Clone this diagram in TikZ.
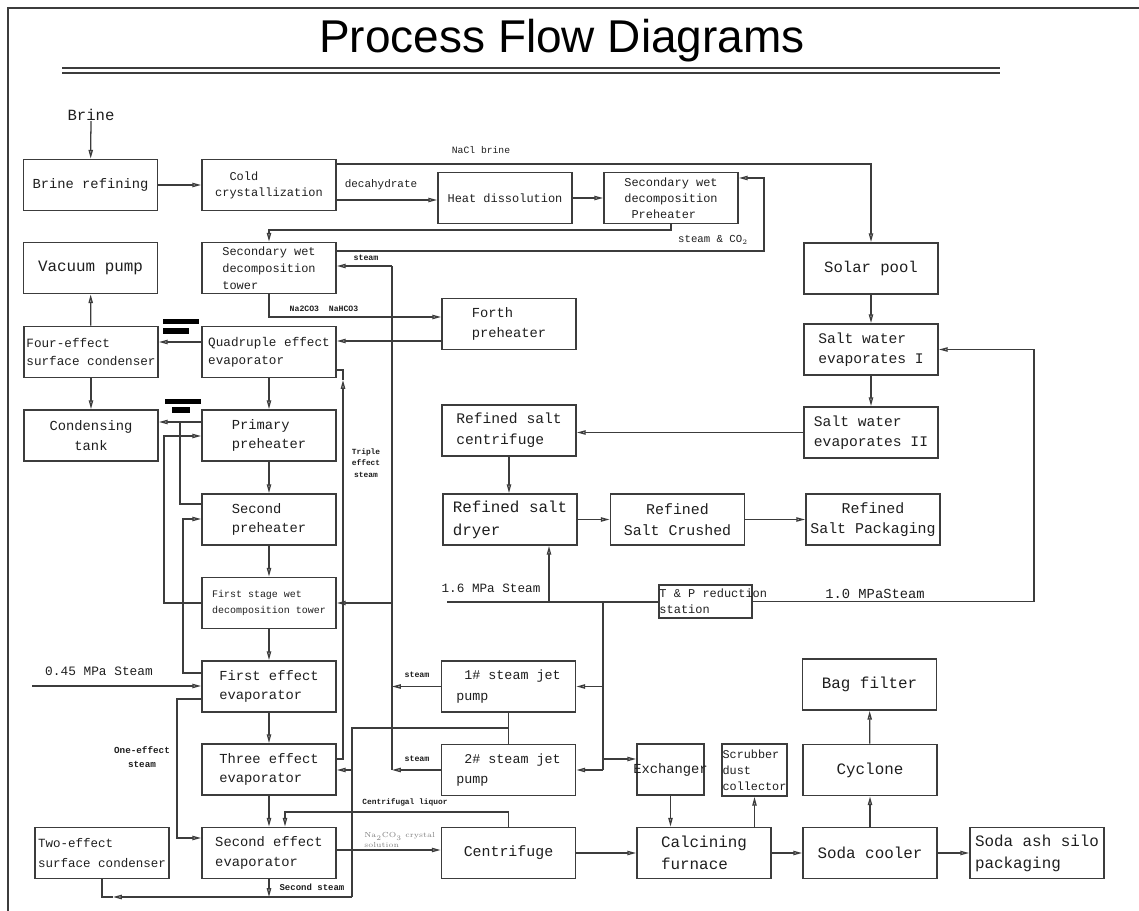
\documentclass[tikz,border=0pt]{standalone}
\usepackage{fontspec}
\usepackage{tikz}
\usetikzlibrary{arrows.meta, calc}
\newfontfamily\boxfont{Liberation Mono}
\newfontfamily\titlefont{Liberation Sans}
\definecolor{lineGray}{RGB}{60,60,60}
\definecolor{textGray}{RGB}{30,30,30}

\begin{document}
\begin{tikzpicture}[x=0.025cm, y=-0.025cm,
  >={Triangle[length=2.2mm, width=1.1mm, fill=gray!45]},
  box/.style={draw=lineGray, line width=1.3pt, minimum width=3.35cm, minimum height=1.275cm, inner sep=1pt, text=textGray},
  flow/.style={->, line width=0.9pt, lineGray},
  pipe/.style={line width=0.9pt, lineGray},
  fs/.style 2 args={font=\boxfont\fontsize{#1}{#2}\selectfont},
  bs/.style 2 args={font=\boxfont\bfseries\fontsize{#1}{#2}\selectfont},
  tag/.style={inner sep=0pt, text=textGray}]
  \useasboundingbox (0,0) rectangle (1139,911);

  % frame and title
  \draw[lineGray, line width=1.2pt] (8,911) -- (8,8) -- (1139,8);
  \node[font=\titlefont\fontsize{32.7}{36}\selectfont] (title) at (562,41) {Process Flow Diagrams};
  \draw[lineGray, line width=1.2pt] (62,68) -- (1000,68);
  \draw[lineGray, line width=1.2pt] (62,73) -- (1000,73);

  % column 1
  \node[tag, fs={11.1}{13}] (lbrine) at (91,115) {Brine};
  \node[box, fs={9.8}{14}] (brref) at (90.5,185) {Brine refining};
  \node[box, fs={11.3}{16}] (vac) at (90.5,268) {Vacuum pump};
  \node[box, fs={9}{13}, align=left] (fourcond) at (91,352) {Four-effect\\surface condenser};
  \node[box, fs={9.8}{14}, align=center] (tank) at (91,435.5) {Condensing\\tank};
  \node[box, fs={8.9}{14}, align=left] (twocond) at (102,853) {Two-effect\\surface condenser};

  % column 2
  \node[box, fs={8.5}{11.4}, align=left] (cold) at (269,185) {\ \ Cold\\crystallization};
  \node[box, fs={8.5}{12}, align=left] (swdtower) at (269,268) {Secondary wet\\decomposition\\tower};
  \node[box, fs={9}{12.5}, align=left] (quad) at (269,352) {Quadruple effect\\evaporator};
  \node[box, fs={9.8}{14}, align=left] (primary) at (269,435.5) {Primary\\preheater};
  \node[box, fs={9.8}{14}, align=left] (second) at (269,519.5) {Second\\preheater};
  \node[box, fs={7.1}{11.5}, align=left] (firststage) at (269,603) {First stage wet\\decomposition tower};
  \node[box, fs={9.8}{14}, align=left] (firsteff) at (269,686.5) {First effect\\evaporator};
  \node[box, fs={9.8}{14}, align=left] (three) at (269,769.5) {Three effect\\evaporator};
  \node[box, fs={9.8}{14}, align=left] (secondeff) at (269,853) {Second effect\\evaporator};

  % column 3
  \node[box, fs={8.5}{12}] (heat) at (505,198) {Heat dissolution};
  \node[box, fs={9.8}{14}, align=left] (forth) at (509,324) {Forth\\preheater};
  \node[box, fs={10.4}{15}, align=left] (rscent) at (509,430.5) {Refined salt\\centrifuge};
  \node[box, fs={11.3}{16.4}, align=left] (dryer) at (510,519.5) {Refined salt\\dryer};
  \node[box, fs={9.5}{14.5}, align=left] (jet1) at (508.5,686.5) {\ 1\# steam jet\\pump};
  \node[box, fs={9.5}{14.5}, align=left] (jet2) at (508.5,770) {\ 2\# steam jet\\pump};
  \node[box, fs={10.6}{15}] (centrif) at (508.5,853) {Centrifuge};

  % column 4
  \node[box, fs={8.5}{11.4}, align=left] (swdpre) at (671,198) {Secondary wet\\decomposition\\\ Preheater};
  \node[box, fs={10.6}{14.5}, align=center] (crushed) at (677.5,519.5) {Refined\\Salt Crushed};
  \node[box, fs={8.5}{11.4}, align=left, minimum width=2.325cm, minimum height=0.825cm, inner sep=0pt] (tp) at (705.5,601.5)
    {\makebox[2.3cm][l]{T \& P reduction}\\\makebox[2.3cm][l]{station}};
  \node[box, fs={9.8}{14}, minimum width=1.675cm] (exch) at (670.5,769.5) {\makebox[0pt]{Exchanger}};
  \node[box, fs={8.4}{11.5}, align=left, minimum width=1.625cm, minimum height=1.3cm, inner sep=0.5pt] (scrub) at (754.5,770) {Scrubber\\dust\\collector};
  \node[box, fs={11.3}{16}, align=left] (calc) at (704,853) {Calcining\\furnace};

  % column 5
  \node[box, fs={11.1}{16}] (solar) at (871,268.5) {Solar pool};
  \node[box, fs={10.4}{14.5}, align=left] (swI) at (871,349.5) {Salt water\\evaporates I};
  \node[box, fs={10.4}{14.5}, align=left] (swII) at (871,432.5) {Salt water\\evaporates II};
  \node[box, fs={10.6}{14.5}, align=center] (packaging) at (873,519.5) {Refined\\Salt Packaging};
  \node[box, fs={11.3}{16}] (bag) at (869.5,684.5) {Bag filter};
  \node[box, fs={11.3}{16}] (cyclone) at (870,770) {Cyclone};
  \node[box, fs={11.3}{16}] (soda) at (870,853) {Soda cooler};
  \node[box, fs={11.3}{15.5}, align=left] (silo) at (1037,853) {Soda ash silo\\packaging};

  % black marks
  \fill[black] (163,319) rectangle (199,324);
  \fill[black] (163,328) rectangle (189,334);
  \fill[black] (165,399) rectangle (201,404);
  \fill[black] (172,407) rectangle (190,413);

  % labels
  \node[tag, fs={6.9}{8}] (lnacl) at (481,150) {NaCl brine};
  \node[tag, fs={7.8}{9}] (ldeca) at (381,185) {decahydrate};
  \node[tag, fs={7.6}{9}] (lco2) at (713,240) {steam \& CO$_2$};
  \node[tag, bs={5.9}{7}] (lsteamA) at (366,258) {steam};
  \node[tag, bs={5.8}{7}] (lnahco) at (324,309) {Na2CO3\ \ NaHCO3};
  \node[tag, bs={5.6}{8.2}, align=center] (ltriple) at (366,463) {Triple\\effect\\steam};
  \node[tag, fs={9}{10}] (l16) at (491,588) {1.6 MPa Steam};
  \node[tag, fs={9.8}{11}] (l10) at (875,594) {1.0 MPaSteam};
  \node[tag, bs={5.9}{7}] (lsteamB) at (417,675) {steam};
  \node[tag, bs={5.9}{7}] (lsteamC) at (417,759) {steam};
  \node[tag, fs={9.1}{10}] (l045) at (99,671) {0.45 MPa Steam};
  \node[tag, bs={6.6}{10}, align=center] (lone) at (142,757) {One-effect\\steam};
  \node[tag, bs={5.6}{7}] (lliquor) at (405,802) {Centrifugal liquor};
  \node[tag, font=\fontsize{5.2}{6.5}\selectfont, text=gray, align=left, anchor=west] (lcrystal) at (364,840) {Na$_2$CO$_3$ crystal\\solution};
  \node[tag, bs={6.4}{8}] (lsecsteam) at (312,887) {Second steam};

  % junction points
  \coordinate (kPre) at (671,230);
  \coordinate (kCO) at (764,251);
  \coordinate (kSteamTop) at (392,266);
  \coordinate (kSteamBot) at (392,770);
  \coordinate (kTank) at (180,422);
  \coordinate (kPrim) at (164,436);
  \coordinate (kSec) at (183,519);
  \coordinate (k045) at (32,686);
  \coordinate (kOne) at (177,838);
  \coordinate (kTri) at (343,380);
  \coordinate (kVac) at (352,728);
  \coordinate (kCond) at (352,897);
  \coordinate (kTwo) at (113,897);
  \coordinate (kLiq) at (285,812);
  \coordinate (k16) at (447,602);
  \coordinate (kDry) at (549,602);
  \coordinate (kJet) at (603,602);
  \coordinate (kJetBot) at (603,770);
  \coordinate (k10) at (1034,349.5);

  % brine line
  \draw[flow] (lbrine) -- (brref);
  \draw[flow] (brref) -- (cold);
  \draw[flow] (cold.east |- 0,164) -| (solar.north);
  \draw[flow] (cold.east |- 0,200) -- (heat.west |- 0,200);
  \draw[flow] (heat) -- (swdpre);
  \draw[flow] (swdpre.south) -- (kPre) -| (swdtower.north);
  \draw[flow] (swdtower.east |- kCO) -- (kCO) |- (swdpre.east |- 0,178);
  \draw[flow] (swdtower.south) |- (forth.west |- 0,317);
  \draw[flow] (forth.west |- 0,341) -- (quad.east |- 0,341);

  % steam header
  \draw[pipe] (kSteamBot) -- (kSteamTop);
  \draw[flow] (kSteamTop) -- (swdtower.east |- kSteamTop);
  \draw[flow] (kSteamTop |- firststage.east) -- (firststage.east);
  \draw[flow] (jet1.west) -- (jet1.west -| kSteamTop);
  \draw[flow] (jet2.west) -- (jet2.west -| kSteamTop);

  % evaporator train
  \draw[flow] (quad.west |- 0,342) -- (fourcond.east |- 0,342);
  \draw[flow] (fourcond) -- (vac);
  \draw[flow] (fourcond) -- (tank);
  \foreach \a/\b in {quad/primary, primary/second, second/firststage, firststage/firsteff, firsteff/three, three/secondeff}
    \draw[flow] (\a) -- (\b);
  \draw[flow] (primary.west |- kTank) -- (tank.east |- kTank);
  \draw[pipe] (second.west |- 0,504) -| (kTank);
  \draw[flow] (firststage.west) -| (kPrim) -- (primary.west |- kPrim);
  \draw[flow] (firsteff.west |- 0,673) -| (kSec) -- (second.west |- kSec);
  \draw[flow] (k045) -- (firsteff.west |- k045);
  \draw[flow] (firsteff.west |- 0,699) -| (kOne) -- (secondeff.west |- kOne);
  \draw[flow] (three.east |- 0,759) -| (kTri);
  \draw[pipe] (kTri) |- (quad.east |- 0,370);

  % vacuum and condensate
  \draw[pipe] (jet1) -- (jet2);
  \draw[pipe] (jet1.south |- kVac) -- (kVac) -- (kCond);
  \draw[flow] (kVac |- 0,770) -- (three.east |- 0,770);
  \draw[flow] (kCond) -- (kTwo);
  \draw[pipe] (kTwo) -| (twocond.south);
  \draw[flow] (secondeff.south) -- (secondeff.south |- kCond);

  % soda ash line
  \draw[flow] (centrif.north) |- (kLiq) -- (kLiq |- secondeff.north);
  \draw[flow] (secondeff.east |- 0,850) -- (centrif.west |- 0,850);
  \draw[flow] (centrif) -- (calc);
  \draw[flow] (calc) -- (soda);
  \draw[flow] (soda) -- (silo);
  \draw[flow] (exch) -- (exch |- calc.north);
  \draw[flow] (scrub |- calc.north) -- (scrub);
  \draw[flow] (soda) -- (cyclone);
  \draw[flow] (cyclone) -- (bag);

  % live steam
  \draw[pipe] (k16) -- (tp.west |- k16);
  \draw[flow] (kDry) -- (kDry |- dryer.south);
  \draw[pipe] (kJet) -- (kJetBot);
  \draw[flow] (kJet |- jet1.east) -- (jet1.east);
  \draw[flow] (kJetBot) -- (jet2.east);
  \draw[flow] (kJet |- 0,759) -- (exch.west |- 0,759);
  \draw[flow] (tp.east) -| (k10) -- (swI.east);

  % refined salt line
  \draw[flow] (solar) -- (swI);
  \draw[flow] (swI) -- (swII);
  \draw[flow] (swII.west) -- (rscent.east |- swII.west);
  \draw[flow] (rscent) -- (rscent |- dryer.north);
  \draw[flow] (dryer) -- (crushed);
  \draw[flow] (crushed) -- (packaging);
\end{tikzpicture}
\end{document}
